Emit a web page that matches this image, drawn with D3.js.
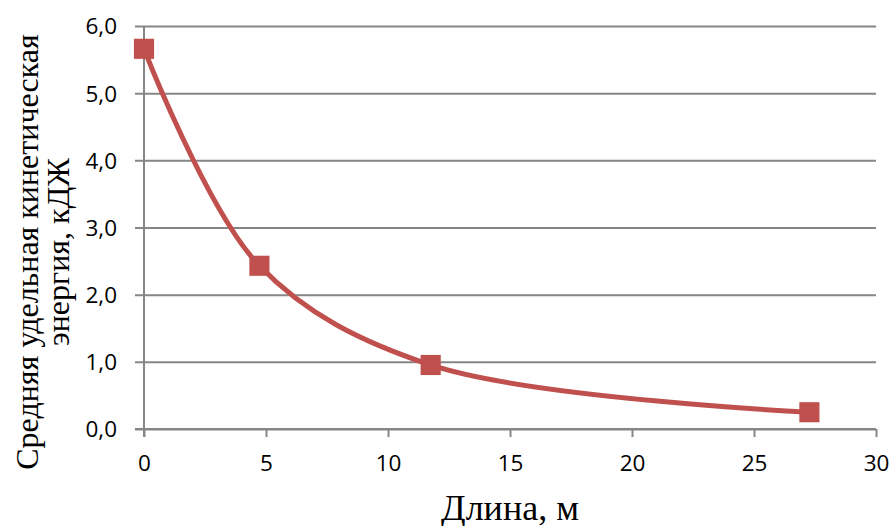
<!DOCTYPE html>
<html>
<head>
<meta charset="utf-8">
<script src="https://cdn.jsdelivr.net/npm/d3@7"></script>
<style>
  html, body { margin: 0; padding: 0; background: #ffffff; }
  svg { display: block; }
</style>
</head>
<body>
<svg id="chart" width="892" height="526"></svg>
<script>
// Length along the sample, m
const lengths = [0, 4.73, 11.75, 27.27];
// Mean specific kinetic energy, kJ
const energies = [5.66, 2.43, 0.953, 0.25];
// Axis ticks
const xTicks = [0, 5, 10, 15, 20, 25, 30];
const yTicks = [0, 1, 2, 3, 4, 5, 6];
const xTitle = "Длина, м";
const yTitleLines = ["Средняя удельная кинетическая", "энергия, кДЖ"];

const svg = d3.select("#chart");
const plot = { left: 144, right: 876, top: 26, bottom: 429 };

const x = d3.scaleLinear().domain([0, 30]).range([plot.left, plot.right]);
const y = d3.scaleLinear().domain([0, 6]).range([plot.bottom, plot.top]);

const gridColor = "#868686";
const seriesColor = "#C0504D";
const tickFont = "'Open Sans', sans-serif";
const titleFont = "'Liberation Serif', 'Times New Roman', serif";

// Horizontal gridlines with left tick stubs
const yAxis = d3.axisLeft(y)
  .tickValues(yTicks)
  .tickSize(-(plot.right - plot.left))
  .tickFormat(d => d3.format(".1f")(d).replace(".", ","));
const gy = svg.append("g")
  .attr("transform", `translate(${plot.left},0)`)
  .call(yAxis);
gy.select(".domain").remove();
gy.selectAll(".tick line")
  .attr("x1", -9)
  .attr("stroke", gridColor)
  .attr("stroke-width", 2);
gy.selectAll(".tick text")
  .attr("x", -27)
  .attr("dy", "0.35em")
  .style("font-family", tickFont)
  .style("font-size", "22.5px")
  .attr("fill", "#000");

// Vertical axis line
svg.append("line")
  .attr("x1", plot.left).attr("x2", plot.left)
  .attr("y1", plot.top).attr("y2", plot.bottom + 8)
  .attr("stroke", gridColor).attr("stroke-width", 2);

// Bottom axis with downward ticks
const xAxis = d3.axisBottom(x).tickValues(xTicks).tickSize(8).tickPadding(18);
const gx = svg.append("g")
  .attr("transform", `translate(0,${plot.bottom})`)
  .call(xAxis);
gx.select(".domain")
  .attr("d", `M${plot.left - 9},0H${plot.right}`)
  .attr("stroke", gridColor).attr("stroke-width", 2);
gx.selectAll(".tick line").attr("stroke", gridColor).attr("stroke-width", 2);
gx.selectAll(".tick text")
  .style("font-family", tickFont)
  .style("font-size", "22.5px")
  .attr("fill", "#000");

// Smoothed series line
const pts = lengths.map((v, i) => [v, energies[i]]);
const line = d3.line()
  .x(d => x(d[0]))
  .y(d => y(d[1]))
  .curve(d3.curveCatmullRom.alpha(0.5));
svg.append("path")
  .datum(pts)
  .attr("d", line)
  .attr("fill", "none")
  .attr("stroke", seriesColor)
  .attr("stroke-width", 5)
  .attr("stroke-linecap", "round");

// Square markers
const ms = 20;
svg.selectAll("rect.marker")
  .data(pts)
  .enter().append("rect")
  .attr("class", "marker")
  .attr("x", d => x(d[0]) - ms / 2)
  .attr("y", d => y(d[1]) - ms / 2)
  .attr("width", ms).attr("height", ms)
  .attr("fill", seriesColor)
  .attr("stroke", "#B9494620")
  .attr("stroke-width", 1);

// Axis titles
svg.append("text")
  .attr("x", (plot.left + plot.right) / 2)
  .attr("y", 520)
  .attr("text-anchor", "middle")
  .style("font-family", titleFont)
  .style("font-size", "36px")
  .attr("fill", "#000")
  .text(xTitle);

const yTitle = svg.append("text")
  .attr("transform", "translate(38,252) rotate(-90)")
  .attr("text-anchor", "middle")
  .style("font-family", titleFont)
  .style("font-size", "32px")
  .attr("fill", "#000");
yTitleLines.forEach((t, i) => {
  yTitle.append("tspan")
    .attr("x", 0)
    .attr("dy", i === 0 ? 0 : 31)
    .text(t);
});
</script>
</body>
</html>
